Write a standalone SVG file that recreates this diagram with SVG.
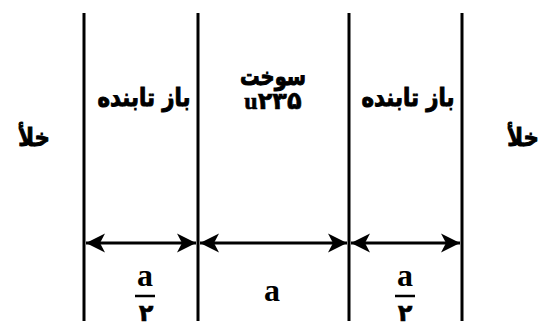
<svg xmlns="http://www.w3.org/2000/svg" width="555" height="327" viewBox="0 0 555 327">
<style>
.wall{stroke:#000;stroke-width:3;fill:none}
.dim{stroke:#000;stroke-width:3;fill:none;marker-start:url(#ah);marker-end:url(#ah)}
.fa{font-family:"DejaVu Sans",sans-serif;font-weight:bold;font-size:25px;fill:#000;stroke:#000;stroke-width:1px;text-anchor:middle}
.lat{font-family:"Liberation Serif","DejaVu Sans",serif;font-weight:bold;font-size:32px;fill:#000;text-anchor:middle}
.num{font-family:"Liberation Serif","DejaVu Sans",serif;font-weight:bold;font-size:24px;fill:#000;stroke:#000;stroke-width:0.6px;text-anchor:middle}
.bar{stroke:#000;stroke-width:2.5}
</style>
<defs>
<marker id="ah" markerUnits="userSpaceOnUse" viewBox="-20 -11 22 22" refX="0" refY="0" markerWidth="22" markerHeight="22" orient="auto-start-reverse">
<path d="M0,0 L-19,-9.5 L-14,0 L-19,9.5 Z" fill="#000"/>
</marker>
</defs>
<g id="walls">
<line class="wall" x1="84" y1="13" x2="84" y2="321"/>
<line class="wall" x1="198" y1="13" x2="198" y2="321"/>
<line class="wall" x1="349" y1="13" x2="349" y2="321"/>
<line class="wall" x1="462" y1="13" x2="462" y2="321"/>
</g>
<g id="vacuum-left"><text class="fa" transform="translate(34,146) scale(0.85,1)" direction="rtl">خلأ</text></g>
<g id="reflector-left"><text class="fa" transform="translate(144,106) scale(0.85,1)" direction="rtl">باز تابنده</text></g>
<g id="fuel"><text class="fa" transform="translate(273,85) scale(0.78,1)" direction="rtl">سوخت</text><text class="num" x="273" y="109">u۲۳۵</text></g>
<g id="reflector-right"><text class="fa" transform="translate(408,106) scale(0.85,1)" direction="rtl">باز تابنده</text></g>
<g id="vacuum-right"><text class="fa" transform="translate(523,146) scale(0.85,1)" direction="rtl">خلأ</text></g>
<g id="connectors">
<line class="dim" x1="86" y1="243" x2="196" y2="243"/>
<line class="dim" x1="200" y1="243" x2="347" y2="243"/>
<line class="dim" x1="351" y1="243" x2="460" y2="243"/>
</g>
<g id="label-left"><text class="lat" x="145" y="286">a</text><line class="bar" x1="135" y1="296" x2="155" y2="296"/><text class="num" x="146" y="321">۲</text></g>
<g id="label-mid"><text class="lat" x="272" y="301">a</text></g>
<g id="label-right"><text class="lat" x="405" y="286">a</text><line class="bar" x1="395" y1="296" x2="415" y2="296"/><text class="num" x="405" y="321">۲</text></g>
</svg>
